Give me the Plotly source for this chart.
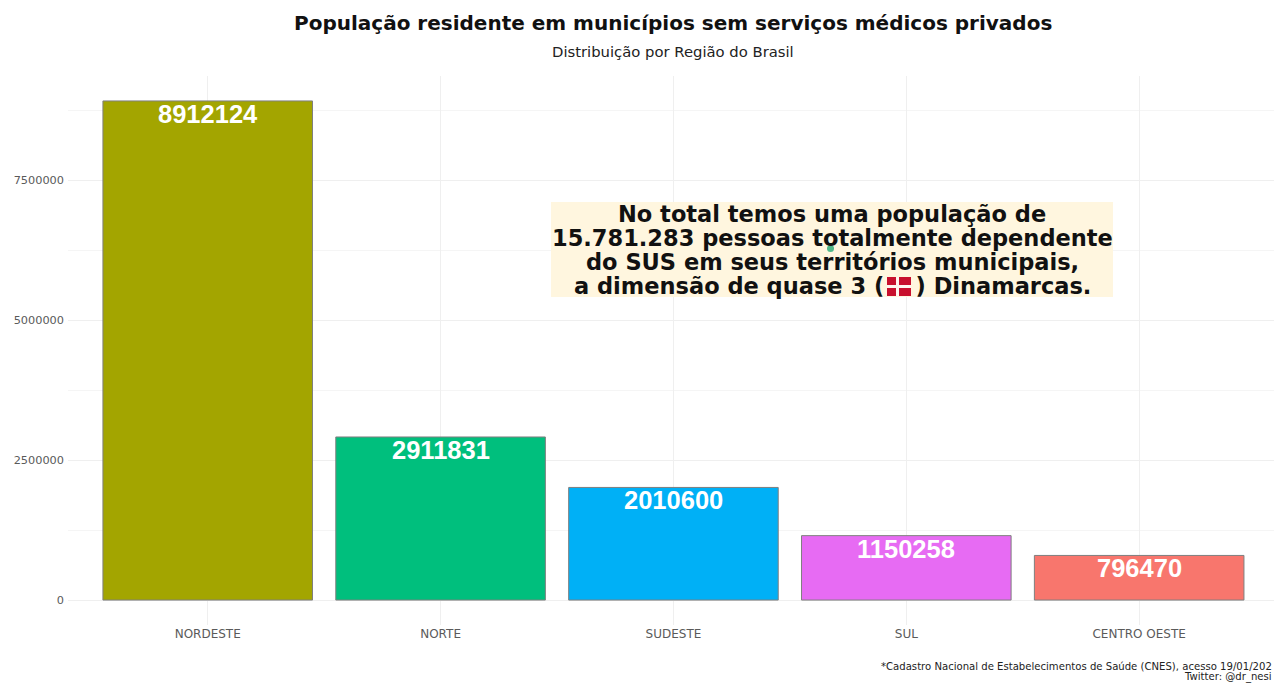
import plotly.graph_objects as go

regions = ["NORDESTE", "NORTE", "SUDESTE", "SUL", "CENTRO OESTE"]
population = [8912124, 2911831, 2010600, 1150258, 796470]
colors = ["#A3A500", "#00BF7D", "#00B0F6", "#E76BF3", "#F8766D"]
y_ticks = [0, 2500000, 5000000, 7500000]
y_minor = [1250000, 3750000, 6250000, 8750000]
note_lines = [
    "No total temos uma população de",
    "15.781.283 pessoas totalmente dependente",
    "do SUS em seus territórios municipais,",
    "a dimensão de quase 3 (    ) Dinamarcas.",
]

W, H = 1274, 684
L, R, T, B = 68, 0, 76, 59
DJ = "DejaVu Sans"

def px(x): return (x - L) / (W - L - R)
def py(y): return 1 - (y - T) / (H - T - B)

fig = go.Figure(go.Bar(
    x=list(range(len(regions))), y=population, width=0.9,
    marker=dict(color=colors, line=dict(color="#7F7F7F", width=1)),
    showlegend=False, hoverinfo="skip",
))

for i, v in enumerate(population):
    fig.add_annotation(x=i, y=v, xref="x", yref="y", text=str(v), showarrow=False,
                       yanchor="top", yshift=3,
                       font=dict(family="Liberation Sans", size=25.5, color="white", weight="bold"))

def label(x, y, text, size, color="#111111", anchor="center"):
    fig.add_annotation(xref="paper", yref="paper", x=px(x), y=py(y), text=text, showarrow=False,
                       xanchor=anchor, yanchor="middle", align="center",
                       font=dict(family=DJ, size=size, color=color))

label(673, 23, "<b>População residente em municípios sem serviços médicos privados</b>", 20)
label(673, 51, "Distribuição por Região do Brasil", 14.8, "#222222")

def rect(x0, y0, x1, y1, c):
    fig.add_shape(type="rect", xref="paper", yref="paper", x0=px(x0), x1=px(x1), y0=py(y0), y1=py(y1),
                  fillcolor=c, line_width=0, layer="above")

# note background, Danish flag emoji and the small artefact in the note
rect(551, 202, 1113, 297, "#FFF6DF")
rect(887, 277, 911, 296, "#C8102E")
rect(896, 277, 899, 296, "#FFF6F0")
rect(887, 285, 911, 288, "#FFF6F0")
fig.add_shape(type="circle", xref="paper", yref="paper", x0=px(827), x1=px(834), y0=py(245), y1=py(252),
              fillcolor="#4FB98A", line_width=0, layer="above")

for k, line in enumerate(note_lines):
    label(832, 214 + 24 * k, f"<b>{line}</b>", 22.5)

label(1274, 666, "*Cadastro Nacional de Estabelecimentos de Saúde (CNES), acesso 19/01/202", 10.1, "#222222", "right")
label(1274, 677, "Twitter: @dr_nesi", 10.1, "#222222", "right")

fig.update_layout(
    width=W, height=H, margin=dict(l=L, r=R, t=T, b=B, autoexpand=False),
    paper_bgcolor="white", plot_bgcolor="white", bargap=0.1,
    xaxis=dict(tickmode="array", tickvals=list(range(len(regions))), ticktext=regions,
               range=[-0.6, 4.579], showgrid=True, gridcolor="#EFEFEF", gridwidth=1,
               zeroline=False, ticks="", ticklabelstandoff=0,
               tickfont=dict(family=DJ, size=12, color="#5A5A5A")),
    yaxis=dict(tickmode="array", tickvals=y_ticks, ticktext=[str(v) for v in y_ticks],
               range=[-445606, 9357730], showgrid=True, gridcolor="#EFEFEF", gridwidth=1,
               zeroline=False, ticks="", ticklabelstandoff=3,
               tickfont=dict(family=DJ, size=11.3, color="#5A5A5A"),
               minor=dict(tickmode="array", tickvals=y_minor, showgrid=True, gridcolor="#F5F5F5", gridwidth=1, ticks="")),
)
fig.write_html("out.html", config={"displayModeBar": False},
               post_script="document.body.style.margin='0';window.dispatchEvent(new Event('resize'));")
